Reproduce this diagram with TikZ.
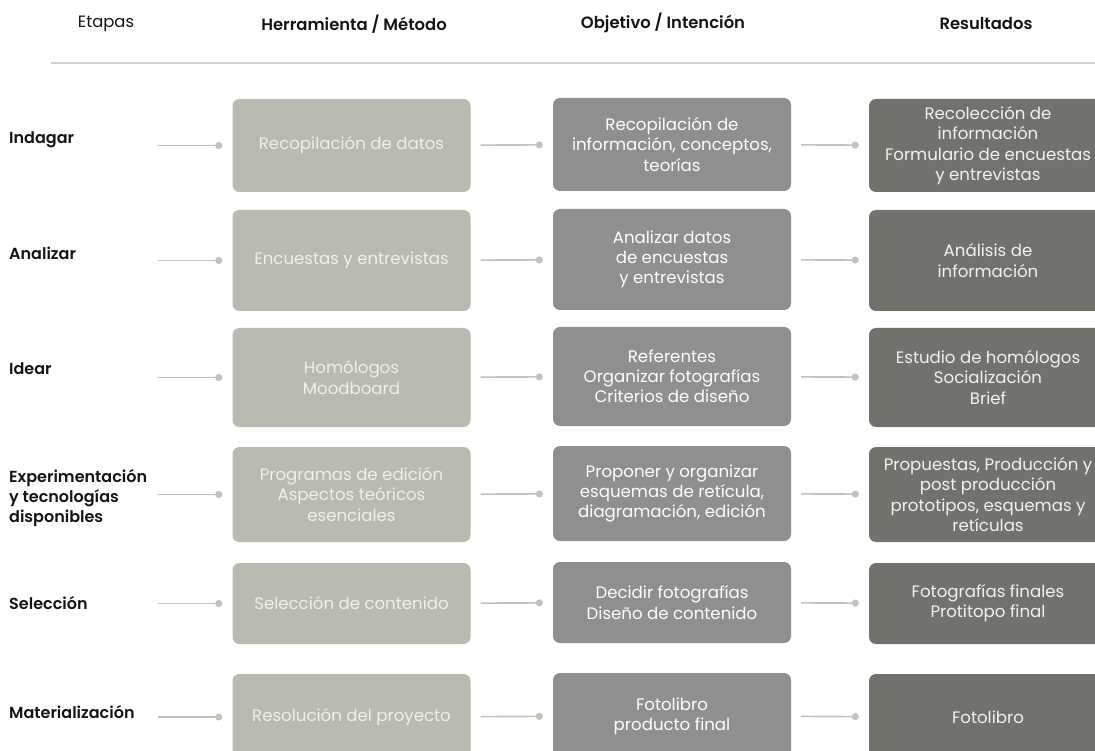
\documentclass[tikz,border=0pt]{standalone}
\usepackage{fontspec}
\setmainfont{Poppins}[BoldFont={Poppins SemiBold}]
\usetikzlibrary{arrows.meta}

\definecolor{herrgris}{HTML}{BABAB0}
\definecolor{herrtexto}{HTML}{F1F1EC}
\definecolor{objgris}{HTML}{8F8F8D}
\definecolor{resgris}{HTML}{72726C}
\definecolor{lineagris}{HTML}{C2C2B8}
\definecolor{reglagris}{HTML}{D2D2CA}

\begin{document}
\begin{tikzpicture}[x=1pt, y=-1pt,
    caja/.style={rectangle, rounded corners=7pt, minimum width=238pt, inner sep=3pt, align=center, font=\fontsize{16.6}{20.2}\selectfont},
    herr/.style={caja, fill=herrgris, text=herrtexto},
    obj/.style={caja, fill=objgris, text=white},
    res/.style={caja, fill=resgris, text=white!95!black},
    etapa/.style={anchor=west, align=left, inner sep=0pt, font=\fontsize{16}{20}\selectfont\bfseries, text=black!92},
    titulo/.style={inner sep=0pt, font=\fontsize{16.4}{18}\selectfont, text=black!92},
    enlace/.style={draw=lineagris, line width=1.6pt, -{Circle[length=7pt]}, shorten <=10pt, shorten >=10pt}]
    \useasboundingbox (0, 0) rectangle (1095, 751);

    \node[titulo] (t0) at (106, 24) {Etapas};
    \node[titulo, font=\fontsize{16.4}{18}\selectfont\bfseries] (t1) at (354, 24) {Herramienta / Método};
    \node[titulo, font=\fontsize{16.4}{18}\selectfont\bfseries] (t2) at (663, 23) {Objetivo / Intención};
    \node[titulo, font=\fontsize{16.4}{18}\selectfont\bfseries] (t3) at (986, 24) {Resultados};
    \coordinate (g0) at (51, 63);
    \coordinate (g1) at (1095, 63);
    \draw[reglagris, line width=1.5pt] (g0) -- (g1);

    \node[etapa] (e1) at (9, 140) {Indagar};
    \node[etapa] (e2) at (9, 253) {Analizar};
    \node[etapa] (e3) at (9, 369) {Idear};
    \node[etapa] (e4) at (9, 498) {Experimentación\\y tecnologías\\disponibles};
    \node[etapa] (e5) at (9, 603) {Selección};
    \node[etapa] (e6) at (9, 712) {Materialización};

    \node[herr, minimum height=93pt] (h1) at (351.5, 145.5) {Recopilación de datos};
    \node[herr, minimum height=101pt] (h2) at (351.5, 260.5) {Encuestas y entrevistas};
    \node[herr, minimum height=99pt] (h3) at (351.5, 377.5) {Homólogos\\Moodboard};
    \node[herr, minimum height=95pt] (h4) at (351.5, 494.5) {Programas de edición\\Aspectos teóricos\\esenciales};
    \node[herr, minimum height=81pt] (h5) at (351.5, 603.5) {Selección de contenido};
    \node[herr, minimum height=86pt] (h6) at (351.5, 717) {Resolución del proyecto};

    \node[obj, minimum height=93pt] (o1) at (672, 144.5) {Recopilación de\\información, conceptos,\\teorías};
    \node[obj, minimum height=101pt] (o2) at (672, 259.5) {Analizar datos\\de encuestas\\y entrevistas};
    \node[obj, minimum height=99pt] (o3) at (672, 376.5) {Referentes\\Organizar fotografías\\Criterios de diseño};
    \node[obj, minimum height=95pt] (o4) at (672, 493.5) {Proponer y organizar\\esquemas de retícula,\\diagramación, edición};
    \node[obj, minimum height=81pt] (o5) at (672, 602.5) {Decidir fotografías\\Diseño de contenido};
    \node[obj, minimum height=86pt] (o6) at (672, 716) {Fotolibro\\producto final};

    \node[res, minimum height=93pt] (r1) at (988, 145.5) {Recolección de\\información\\Formulario de encuestas\\y entrevistas};
    \node[res, minimum height=101pt] (r2) at (988, 260.5) {Análisis de\\información};
    \node[res, minimum height=99pt] (r3) at (988, 377.5) {Estudio de homólogos\\Socialización\\Brief};
    \node[res, minimum height=95pt] (r4) at (988, 494.5) {Propuestas, Producción y\\post producción\\prototipos, esquemas y\\retículas};
    \node[res, minimum height=81pt] (r5) at (988, 603.5) {Fotografías finales\\Protitopo final};
    \node[res, minimum height=86pt] (r6) at (988, 717) {Fotolibro};

    \coordinate (s1) at (148, 145.5);
    \coordinate (s2) at (148, 260.5);
    \coordinate (s3) at (148, 377.5);
    \coordinate (s4) at (148, 494.5);
    \coordinate (s5) at (148, 603.5);
    \coordinate (s6) at (148, 717);

    \draw[enlace] (s1) -- (h1.west);
    \draw[enlace] (s2) -- (h2.west);
    \draw[enlace] (s3) -- (h3.west);
    \draw[enlace] (s4) -- (h4.west);
    \draw[enlace] (s5) -- (h5.west);
    \draw[enlace] (s6) -- (h6.west);
    \draw[enlace] (h1) -- (o1);
    \draw[enlace] (h2) -- (o2);
    \draw[enlace] (h3) -- (o3);
    \draw[enlace] (h4) -- (o4);
    \draw[enlace] (h5) -- (o5);
    \draw[enlace] (h6) -- (o6);
    \draw[enlace] (o1) -- (r1);
    \draw[enlace] (o2) -- (r2);
    \draw[enlace] (o3) -- (r3);
    \draw[enlace] (o4) -- (r4);
    \draw[enlace] (o5) -- (r5);
    \draw[enlace] (o6) -- (r6);
\end{tikzpicture}
\end{document}
